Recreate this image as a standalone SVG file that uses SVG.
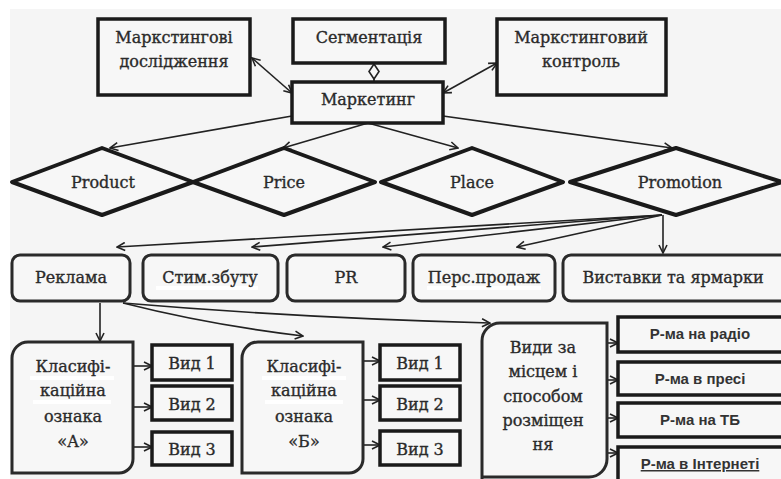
<svg xmlns="http://www.w3.org/2000/svg" width="781" height="479" viewBox="0 0 781 479">
<defs>
<style>
.bg{fill:#f5f5f5}
.box{fill:#f7f7f7;stroke:#1a1a1a;stroke-width:3.5}
.rbox{fill:#f7f7f7;stroke:#2a2a2a;stroke-width:3}
.dia{fill:#f7f7f7;stroke:#1a1a1a;stroke-width:4;stroke-linejoin:round}
.t{font-family:"DejaVu Serif","Liberation Serif",serif;font-size:16px;fill:#2a2a2a;stroke:#2a2a2a;stroke-width:0.35;text-anchor:middle}
.s{font-family:"Liberation Sans","Open Sans",sans-serif;font-size:15px;font-weight:bold;fill:#333;text-anchor:middle}
.c{fill:none;stroke:#222;stroke-width:1.6}
.hl{fill:#ffffff}
</style>
<marker id="ah" viewBox="0 0 10 10" refX="9" refY="5" markerWidth="10" markerHeight="10" markerUnits="userSpaceOnUse" orient="auto-start-reverse">
<path d="M1,1 L9,5 L1,9" fill="none" stroke="#222" stroke-width="1.6"/>
</marker>
</defs>
<rect x="0" y="0" width="781" height="479" fill="#ffffff"/>
<rect class="bg" x="10" y="9" width="771" height="470"/>

<g id="connectors">
<path class="c" d="M252,58 L292,93" marker-start="url(#ah)" marker-end="url(#ah)"/>
<path class="c" d="M443,93 L497,63" marker-start="url(#ah)" marker-end="url(#ah)"/>
<path class="c" d="M374,63 V82"/>
<polygon points="374,64 379,71.5 374,79 369,71.5" fill="#f7f7f7" stroke="#222" stroke-width="1.6"/>
<path class="c" d="M292,116 L110,148" marker-end="url(#ah)"/>
<path class="c" d="M368,123 L283,148" marker-end="url(#ah)"/>
<path class="c" d="M368,123 L458,148" marker-end="url(#ah)"/>
<path class="c" d="M443,116 L672,148" marker-end="url(#ah)"/>
<path class="c" d="M662,215 L117,247" marker-end="url(#ah)"/>
<path class="c" d="M662,215 L252,247" marker-end="url(#ah)"/>
<path class="c" d="M662,215 L383,247" marker-end="url(#ah)"/>
<path class="c" d="M662,215 L517,247" marker-end="url(#ah)"/>
<path class="c" d="M663,215 L663,253" marker-end="url(#ah)"/>
<path class="c" d="M100,303 L100,341" marker-end="url(#ah)"/>
<path class="c" d="M123,303 Q210,325 303,336" marker-end="url(#ah)"/>
<path class="c" d="M123,303 Q300,318 490,323" marker-end="url(#ah)"/>
<path class="c" d="M133,366 L152,366" marker-end="url(#ah)"/>
<path class="c" d="M133,407 L152,407" marker-end="url(#ah)"/>
<path class="c" d="M133,447 L152,447" marker-end="url(#ah)"/>
<path class="c" d="M363,361 L380,361" marker-end="url(#ah)"/>
<path class="c" d="M363,400 L380,400" marker-end="url(#ah)"/>
<path class="c" d="M363,445 L380,445" marker-end="url(#ah)"/>
<path class="c" d="M607,343 L618,343" marker-end="url(#ah)"/>
<path class="c" d="M607,380 L618,380" marker-end="url(#ah)"/>
<path class="c" d="M607,418 L618,418" marker-end="url(#ah)"/>
<path class="c" d="M607,453 L618,453" marker-end="url(#ah)"/>
</g>

<g id="n-research">
<rect class="box" x="98" y="19" width="152" height="76"/>
<text class="t" x="174" y="43">Маркстингові</text>
<text class="t" x="174" y="67">дослідження</text>
</g>
<g id="n-segment">
<rect class="box" x="293" y="19" width="152" height="44"/>
<text class="t" x="369" y="43">Сегментація</text>
</g>
<g id="n-control">
<rect class="box" x="497" y="19" width="169" height="76"/>
<text class="t" x="581" y="43">Маркстинговий</text>
<text class="t" x="581" y="67">контроль</text>
</g>
<g id="n-marketing">
<rect class="box" x="292" y="82" width="151" height="41"/>
<text class="t" x="368" y="105">Маркетинг</text>
</g>

<g id="n-product">
<polygon class="dia" points="12,182 102,148 193,182 102,215"/>
<text class="t" x="103" y="188">Product</text>
</g>
<g id="n-price">
<polygon class="dia" points="193,182 284,148 375,182 284,215"/>
<text class="t" x="284" y="188">Price</text>
</g>
<g id="n-place">
<polygon class="dia" points="381,182 472,148 563,182 472,215"/>
<text class="t" x="472" y="188">Place</text>
</g>
<g id="n-promotion">
<polygon class="dia" points="570,182 676,148 782,182 676,215"/>
<text class="t" x="680" y="188">Promotion</text>
</g>

<g id="n-reklama">
<rect class="rbox" x="12" y="255" width="118" height="46" rx="8"/>
<text class="t" x="71" y="283">Реклама</text>
</g>
<g id="n-stim">
<rect class="rbox" x="143" y="255" width="135" height="46" rx="8"/>
<rect class="hl" x="156" y="286" width="102" height="4"/>
<text class="t" x="210" y="283">Стим.збуту</text>
</g>
<g id="n-pr">
<rect class="rbox" x="287" y="255" width="118" height="46" rx="8"/>
<text class="t" x="346" y="283">PR</text>
</g>
<g id="n-pers">
<rect class="rbox" x="413" y="255" width="142" height="46" rx="8"/>
<rect class="hl" x="427" y="286" width="114" height="4"/>
<text class="t" x="484" y="283">Перс.продаж</text>
</g>
<g id="n-vystavky">
<rect class="rbox" x="563" y="255" width="230" height="46" rx="8"/>
<text class="t" x="673" y="283">Виставки та ярмарки</text>
</g>

<g id="n-klasA">
<path class="rbox" d="M12,473 V358 A16,16 0 0 1 28,342 H133 V459 A14,14 0 0 1 119,473 Z"/>
<rect class="hl" x="30" y="376" width="84" height="4"/>
<rect class="hl" x="33" y="400" width="78" height="4"/>
<text class="t" x="73" y="372">Класифі-</text>
<text class="t" x="73" y="396">каційна</text>
<text class="t" x="73" y="422">ознака</text>
<text class="t" x="73" y="447">«А»</text>
</g>
<g id="n-vidA1"><rect class="box" x="152" y="345" width="80" height="35"/><text class="t" x="192" y="369">Вид 1</text></g>
<g id="n-vidA2"><rect class="box" x="152" y="386" width="80" height="34"/><text class="t" x="192" y="410">Вид 2</text></g>
<g id="n-vidA3"><rect class="box" x="152" y="432" width="80" height="33"/><text class="t" x="192" y="455">Вид 3</text></g>

<g id="n-klasB">
<path class="rbox" d="M242,473 V358 A16,16 0 0 1 258,342 H363 V459 A14,14 0 0 1 349,473 Z"/>
<rect class="hl" x="262" y="376" width="84" height="4"/>
<rect class="hl" x="265" y="400" width="78" height="4"/>
<text class="t" x="304" y="372">Класифі-</text>
<text class="t" x="304" y="396">каційна</text>
<text class="t" x="304" y="422">ознака</text>
<text class="t" x="304" y="447">«Б»</text>
</g>
<g id="n-vidB1"><rect class="box" x="380" y="345" width="80" height="35"/><text class="t" x="420" y="369">Вид 1</text></g>
<g id="n-vidB2"><rect class="box" x="380" y="386" width="80" height="34"/><text class="t" x="420" y="410">Вид 2</text></g>
<g id="n-vidB3"><rect class="box" x="380" y="431" width="80" height="34"/><text class="t" x="420" y="455">Вид 3</text></g>

<g id="n-vydy">
<path class="rbox" d="M482,490 V341 A18,18 0 0 1 500,323 H607 V459 A18,18 0 0 1 589,477 H482"/>
<text class="t" x="543" y="353">Види за</text>
<text class="t" x="543" y="377">місцем і</text>
<text class="t" x="543" y="402">способом</text>
<text class="t" x="543" y="426">розміщен</text>
<text class="t" x="543" y="450">ня</text>
</g>
<g id="n-radio"><rect class="box" x="618" y="317" width="175" height="35"/><text class="s" x="700" y="339">Р-ма на радіо</text></g>
<g id="n-presa"><rect class="box" x="618" y="362" width="175" height="33"/><text class="s" x="700" y="384">Р-ма в пресі</text></g>
<g id="n-tb"><rect class="box" x="618" y="403" width="175" height="34"/><text class="s" x="700" y="425">Р-ма на ТБ</text></g>
<g id="n-internet"><rect class="box" x="618" y="447" width="175" height="45"/><text class="s" x="700" y="469" text-decoration="underline">Р-ма в Інтернеті</text></g>
</svg>
